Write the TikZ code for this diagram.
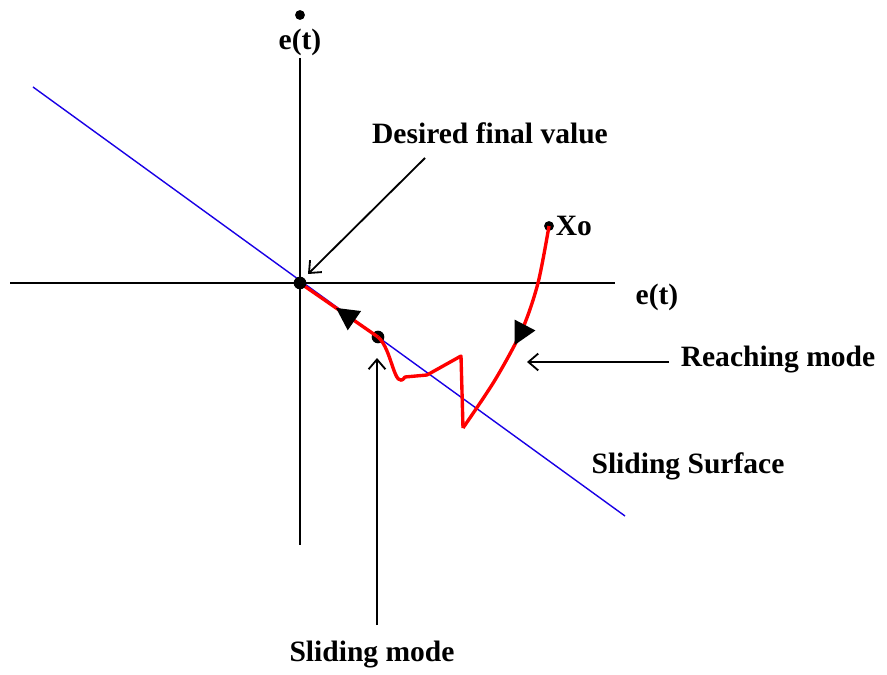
\documentclass[tikz,border=0pt]{standalone}
\usepackage{fontspec}
\setmainfont{Liberation Serif}
\usetikzlibrary{arrows.meta, positioning, calc, decorations.markings}

\begin{document}
\begin{tikzpicture}[
    x=0.025cm, y=-0.025cm,
    >=Stealth,
    % styles for the phase plane
    axis/.style={line width=2pt, black},
    surf/.style={line width=1pt, blue!80!violet},
    traj/.style={line width=2.4pt, red, line join=round},
    lbl/.style={font=\fontsize{21}{25}\selectfont\bfseries, inner sep=1pt},
    ptr/.style={line width=1.3pt, -{Straight Barb[length=7pt, width=12pt, line width=1.3pt]}},
    pt/.style={circle, fill=black, inner sep=0pt, minimum size=9pt},
    mid_tri/.style={postaction={decorate, decoration={markings,
        mark=at position #1 with {\arrow[black]{Triangle[length=16pt, width=16pt]}}}}}
]
    \useasboundingbox (0,0) rectangle (887,675);

    % --- Axes ---
    \coordinate (origin) at (300,283);
    \draw[axis] (10,283) coordinate (xl) -- (615,283) coordinate (xr);
    \draw[axis] (300,58) coordinate (yt) -- (300,545) coordinate (yb);
    \node[lbl] (ex) at (657,297) {e(t)};
    \node[lbl] (ey) at (300,42) {e(t)};
    \node[pt, minimum size=7pt] (eydot) at (300,15) {};

    % --- Sliding surface ---
    \draw[surf] (33,87) coordinate (s_a) -- (625,516) coordinate (s_b);
    \node[lbl] (surface) at (688,466) {Sliding Surface};

    % --- Trajectory points ---
    \node[pt, minimum size=7pt] (x0) at (549,226) {};
    \node[lbl, right=0pt of x0] (x0lbl) {Xo};
    \node[pt] (hit) at (378,337) {};
    \coordinate (low) at (463,428);
    \coordinate (peak) at (461,356);
    \coordinate (z_1) at (427,375);
    \coordinate (z_2) at (405,377);

    % reaching phase, then chattering down onto the surface
    \draw[traj, mid_tri=0.56] plot[smooth] coordinates {(549,226) (538,283) (522,330) (495,380) (463,428)};
    \draw[traj] (low) -- (peak) -- (z_1) -- (z_2) to[out=-125, in=-40] (hit.center);
    % sliding phase along the surface
    \draw[traj, mid_tri=0.54] (hit.center) -- (origin);
    \node[pt] (o) at (origin) {};

    % --- Labels with pointers ---
    \node[lbl] (desired) at (490,133) {Desired final value};
    \draw[ptr] (425,158) coordinate (d_from) -- ($(o)+(8,-9)$);

    \node[lbl] (reaching) at (778,360) {Reaching mode};
    \draw[ptr] (reaching.west) ++(-10,2) coordinate (r_from) -- (527,362);

    \node[lbl] (sliding) at (372,655) {Sliding mode};
    \draw[ptr] (377,625) coordinate (sl_from) -- (377,358);
\end{tikzpicture}
\end{document}
